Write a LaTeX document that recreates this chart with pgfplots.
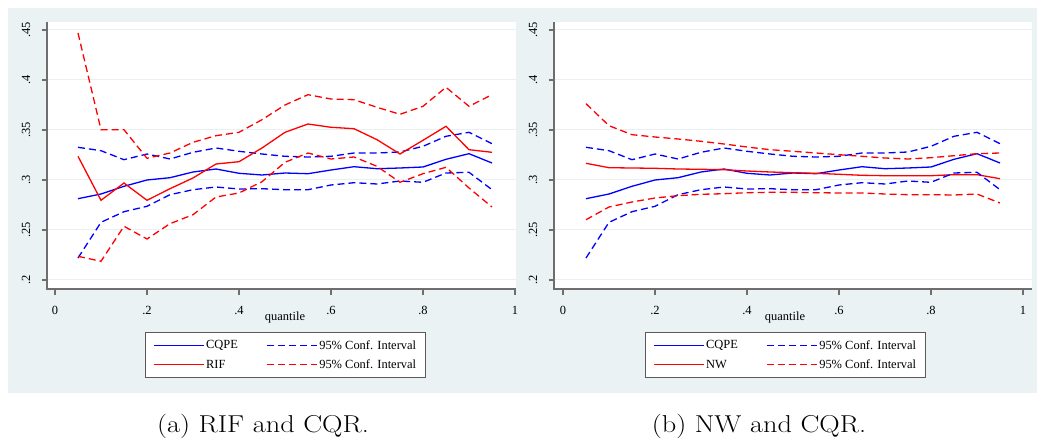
\documentclass[border=0pt]{standalone}
\usepackage{fontspec}
\usepackage{graphicx}
\usepackage{pgfplots}
\usepackage{pgfplotstable}
\pgfplotsset{compat=1.18}
\newfontfamily\tnr{Liberation Serif}
\definecolor{bgc}{RGB}{234,242,243}
\definecolor{gridc}{RGB}{232,240,242}
\definecolor{axisgray}{RGB}{110,110,110}
\definecolor{legc}{RGB}{90,90,90}
\definecolor{sblue}{RGB}{0,0,255}
\definecolor{sred}{RGB}{255,0,0}

\pgfplotstableread{
q cq cqlo cqhi rif riflo rifhi nw nwlo nwhi
0.05 0.2813 0.2220 0.3327 0.3237 0.2237 0.4470 0.3167 0.2603 0.3763
0.10 0.2860 0.2577 0.3293 0.2797 0.2187 0.3503 0.3123 0.2730 0.3543
0.15 0.2937 0.2683 0.3203 0.2970 0.2537 0.3503 0.3120 0.2780 0.3453
0.20 0.3000 0.2737 0.3260 0.2797 0.2410 0.3217 0.3117 0.2820 0.3430
0.25 0.3023 0.2853 0.3210 0.2913 0.2563 0.3270 0.3110 0.2843 0.3410
0.30 0.3080 0.2903 0.3277 0.3020 0.2653 0.3377 0.3107 0.2857 0.3387
0.35 0.3110 0.2930 0.3320 0.3160 0.2830 0.3443 0.3103 0.2863 0.3360
0.40 0.3067 0.2910 0.3287 0.3183 0.2870 0.3477 0.3090 0.2873 0.3330
0.45 0.3050 0.2913 0.3260 0.3320 0.2983 0.3603 0.3080 0.2877 0.3303
0.50 0.3070 0.2903 0.3237 0.3477 0.3177 0.3750 0.3073 0.2877 0.3287
0.55 0.3063 0.2903 0.3230 0.3560 0.3270 0.3853 0.3067 0.2873 0.3270
0.60 0.3100 0.2950 0.3237 0.3527 0.3210 0.3810 0.3057 0.2870 0.3253
0.65 0.3133 0.2973 0.3270 0.3513 0.3230 0.3803 0.3047 0.2870 0.3237
0.70 0.3113 0.2960 0.3270 0.3403 0.3137 0.3727 0.3043 0.2860 0.3220
0.75 0.3120 0.2990 0.3280 0.3260 0.2977 0.3657 0.3043 0.2853 0.3210
0.80 0.3130 0.2977 0.3337 0.3397 0.3063 0.3737 0.3043 0.2853 0.3223
0.85 0.3207 0.3070 0.3437 0.3537 0.3127 0.3927 0.3053 0.2850 0.3243
0.90 0.3263 0.3077 0.3477 0.3303 0.2920 0.3737 0.3053 0.2860 0.3263
0.95 0.3170 0.2903 0.3363 0.3277 0.2730 0.3853 0.3013 0.2770 0.3270
}\datatable

\pgfplotsset{
 stata/.style={
  scale only axis, anchor=south west,
  axis line style={draw=none},
  xtick pos=left, ytick pos=left,
  tick align=outside, major tick length=5.5bp,
  major tick style={draw=axisgray, line width=1.2bp},
  ymin=0.191, ymax=0.458,
  ytick={0.2,0.25,0.3,0.35,0.4,0.45},
  yticklabels={.2,.25,.3,.35,.4,.45},
  xtick={0,0.2,0.4,0.6,0.8,1},
  xticklabels={0,.2,.4,.6,.8,1},
  ymajorgrids, major grid style={draw=gridc, line width=1bp},
  axis background/.style={fill=white},
  tick label style={font=\tnr\fontsize{12.5}{14}\selectfont, text=black},
  xticklabel style={anchor=center, yshift=-16bp},
  yticklabel style={anchor=center, xshift=-15.5bp, rotate=90},
  xlabel={quantile},
  label style={font=\tnr\fontsize{12.5}{14}\selectfont},
  legend columns=2,
  legend cell align=left,
  legend style={font=\tnr\fontsize{12.5}{14}\selectfont, draw=legc, fill=white,
     line width=0.8bp, anchor=north, inner xsep=7bp, inner ysep=6bp,
     row sep=5bp,
     /tikz/every even column/.append style={column sep=26bp}},
  legend image code/.code={\draw[##1] (0bp,0bp) -- (50bp,0bp);},
  solidl/.style={line width=1.3bp},
  dashl/.style={line width=1.3bp, dash pattern=on 7bp off 4bp},
 }
}

\begin{document}
\begin{tikzpicture}
\path[use as bounding box] (0bp,0bp) rectangle (1037bp,439bp);
\fill[bgc] (8bp,46bp) rectangle (1037bp,431bp);

\begin{axis}[stata, at={(47bp,150bp)}, width=469bp, height=267bp,
  xmin=-0.01739, xmax=1.00217,
  xlabel style={at={(axis description cs:0.5075,-0.1086)}, anchor=center},
  legend style={at={(0.5085,-0.161)}}]
\addplot[draw=sblue, solidl] table[x=q, y=cq] {\datatable};
\addlegendentry{CQPE}
\addplot[draw=sblue, dashl] table[x=q, y=cqhi] {\datatable};
\addlegendentry{95\% Conf. Interval}
\addplot[draw=sred, solidl] table[x=q, y=rif] {\datatable};
\addlegendentry{RIF}
\addplot[draw=sred, dashl] table[x=q, y=rifhi] {\datatable};
\addlegendentry{95\% Conf. Interval}
\addplot[draw=sblue, dashl, forget plot] table[x=q, y=cqlo] {\datatable};
\addplot[draw=sred, dashl, forget plot] table[x=q, y=riflo] {\datatable};
\end{axis}
\fill[axisgray] (46.3bp,417bp) rectangle (47.7bp,149.3bp);
\fill[axisgray] (46.3bp,149.3bp) rectangle (516bp,150.7bp);

\begin{axis}[stata, at={(554bp,150bp)}, width=478bp, height=267bp,
  xmin=-0.01957, xmax=1.01957,
  xlabel style={at={(axis description cs:0.4833,-0.1086)}, anchor=center},
  legend style={at={(0.4843,-0.161)}}]
\addplot[draw=sblue, solidl] table[x=q, y=cq] {\datatable};
\addlegendentry{CQPE}
\addplot[draw=sblue, dashl] table[x=q, y=cqhi] {\datatable};
\addlegendentry{95\% Conf. Interval}
\addplot[draw=sred, solidl] table[x=q, y=nw] {\datatable};
\addlegendentry{NW}
\addplot[draw=sred, dashl] table[x=q, y=nwhi] {\datatable};
\addlegendentry{95\% Conf. Interval}
\addplot[draw=sblue, dashl, forget plot] table[x=q, y=cqlo] {\datatable};
\addplot[draw=sred, dashl, forget plot] table[x=q, y=nwlo] {\datatable};
\end{axis}
\fill[axisgray] (553.3bp,417bp) rectangle (554.7bp,149.3bp);
\fill[axisgray] (553.3bp,149.3bp) rectangle (1032bp,150.7bp);

\node[font=\fontsize{24.5}{28}\selectfont, anchor=center] at (263bp,13bp) {\scalebox{1.16}[1]{(a) RIF and CQR.}};
\node[font=\fontsize{24.5}{28}\selectfont, anchor=center] at (759bp,13bp) {\scalebox{1.16}[1]{(b) NW and CQR.}};
\end{tikzpicture}
\end{document}
